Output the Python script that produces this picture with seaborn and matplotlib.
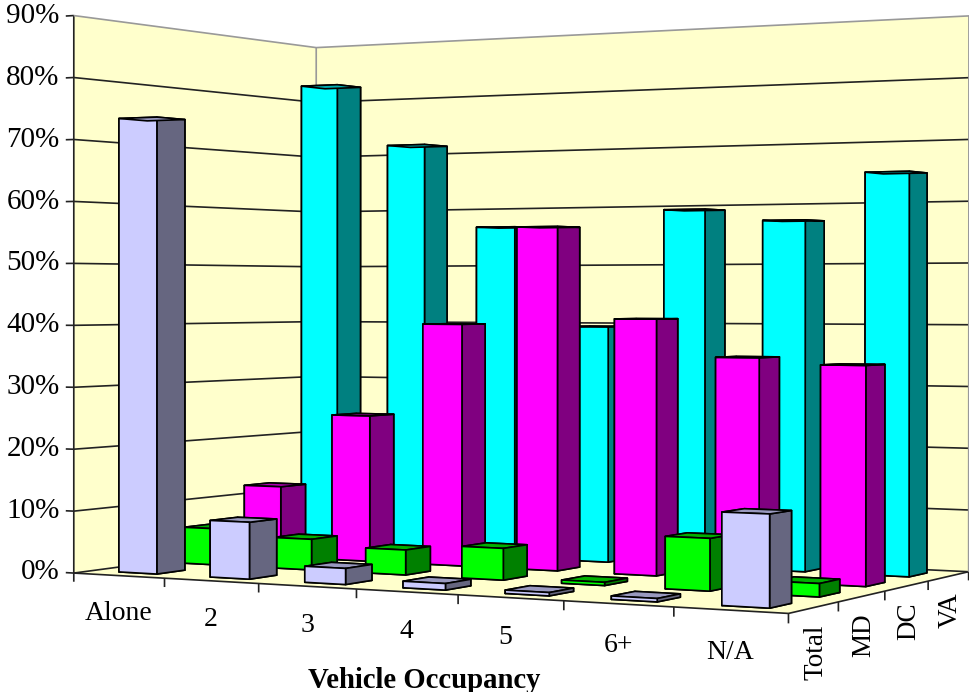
import numpy as np
import pandas as pd
import matplotlib
matplotlib.use('Agg')
import matplotlib.pyplot as plt
from mpl_toolkits.mplot3d import Axes3D
from mpl_toolkits.mplot3d.art3d import Poly3DCollection, Line3DCollection
import seaborn as sns

occupancy = ['Alone', '2', '3', '4', '5', '6+', 'N/A']
areas = ['Total', 'MD', 'DC', 'VA']
pct_ticks = [0, 10, 20, 30, 40, 50, 60, 70, 80, 90]

total = [73.5, 9, 2.5, 1, 0.5, 0.5, 13.5]
md = [6, 5, 4, 5, 0.5, 8, 2]
dc = [12, 24.5, 40, 56, 41, 35, 34]
va = [82, 71, 56.5, 39.5, 59, 57, 64.5]

df = pd.DataFrame({'Total': total, 'MD': md, 'DC': dc, 'VA': va}, index=occupancy)

sns.set_theme(style='white')
plt.rcParams['font.family'] = ['Liberation Serif', 'DejaVu Serif']

front = sns.color_palette(['#CCCCFF', '#00FF00', '#FF00FF', '#00FFFF'])
side = sns.color_palette(['#666680', '#008000', '#800080', '#008080'])
top = sns.color_palette(['#9999BF', '#00B000', '#B000B0', '#00B0B0'])
wall = '#FFFFCC'
dark = '#222222'
gray = '#999999'

fig = plt.figure(figsize=(9.69, 6.92), dpi=100)
h = 969 / 692
ax = fig.add_axes([0, (1 - h) / 2, 1, h], projection='3d', computed_zorder=False)
ax.set_axis_off()
ax.patch.set_visible(False)

# the box corners as seen in the picture (pixels), the camera is fitted to them
n_x, n_y, n_z = len(occupancy), len(areas), pct_ticks[-1]
corners = [
    ((0, 0, 0), (74, 574)),
    ((0, 0, n_z), (74, 15)),
    ((0, n_y, 0), (316, 540)),
    ((0, n_y, n_z), (316, 48)),
    ((n_x, n_y, 0), (969, 572)),
    ((n_x, n_y, n_z), (969, 16)),
    ((n_x, 0, 0), (788, 613)),
]
rows, rhs = [], []
for (x, y, z), (u, v) in corners:
    rows.append([x, y, z, 1, 0, 0, 0, 0, -u * x, -u * y, -u * z])
    rhs.append(u)
    rows.append([0, 0, 0, 0, x, y, z, 1, -v * x, -v * y, -v * z])
    rhs.append(v)
sol = np.linalg.lstsq(np.array(rows, float), np.array(rhs, float), rcond=None)[0]
P = np.append(sol, 1).reshape(3, 4)


def get_proj():
    flip = np.array([[1, 0, 0], [0, -1, 692], [0, 0, 1]], float)
    to_data = np.linalg.inv(ax.transData.get_affine().get_matrix())
    Q = to_data @ flip @ P
    depth = [-0.05, 0.1, -0.001, 2]
    return np.array([Q[0], Q[1], depth, Q[2]])


def to_fig(x, y, z):
    u, v, w = P @ [x, y, z, 1]
    return u / w / 969, 1 - v / w / 692


ax.get_proj = get_proj
ax.set_xlim(0, n_x)
ax.set_ylim(0, n_y)
ax.set_zlim(0, n_z)

# walls and floor
ax.add_collection3d(Poly3DCollection(
    [[(0, 0, 0), (0, n_y, 0), (0, n_y, n_z), (0, 0, n_z)],
     [(0, n_y, 0), (n_x, n_y, 0), (n_x, n_y, n_z), (0, n_y, n_z)],
     [(0, 0, 0), (n_x, 0, 0), (n_x, n_y, 0), (0, n_y, 0)]],
    facecolors=wall, edgecolors='none', zorder=1))

grid_segs = []
for p in pct_ticks[:-1]:
    grid_segs.append([(0, 0, p), (0, n_y, p), (n_x, n_y, p)])
    grid_segs.append([(-0.09, 0, p), (0, 0, p)])
grid_segs.append([(-0.09, 0, n_z), (0, 0, n_z)])
grid_segs.append([(0, 0, 0), (0, 0, n_z)])
grid_segs.append([(0, 0, 0), (n_x, 0, 0), (n_x, n_y, 0)])
for i in range(n_x + 1):
    grid_segs.append([(i, 0, 0), (i, 0, -1.4)])
for j in range(1, n_y + 1):
    grid_segs.append([(n_x, j, 0), (n_x, j, -1.4)])
ax.add_collection3d(Line3DCollection(grid_segs, colors=dark, linewidths=1.2, zorder=2), autolim=False)

gray_segs = [[(0, 0, n_z), (0, n_y, n_z), (n_x, n_y, n_z), (n_x, n_y, 0)],
             [(0, n_y, 0), (0, n_y, n_z)]]
ax.add_collection3d(Line3DCollection(gray_segs, colors=gray, linewidths=1.2, zorder=2), autolim=False)

# bars, back row first so the front ones paint over them
bar_w, bar_d = 0.42, 0.43
order = 3
for j in reversed(range(n_y)):
    for i in range(n_x):
        val = df.iloc[i, j]
        # faces: -z, +z, -y, +y, -x, +x
        cols = [side[j], top[j], front[j], side[j], side[j], side[j]]
        ax.bar3d(i + (1 - bar_w) / 2, j + (1 - bar_d) / 2, 0, bar_w, bar_d, val,
                 color=cols, shade=False, edgecolor='black', linewidth=1.2, zorder=order)
        order += 1

for p in pct_ticks:
    fx, fy = to_fig(-0.16, 0, p)
    fig.text(fx, fy, '%d%%' % p, ha='right', va='center', fontsize=21, color='black')
for i, name in enumerate(occupancy):
    # the 5 sits a little left of its cell in the original
    nudge = -0.05 if name == '5' else 0
    fx, fy = to_fig(i + 0.5 + nudge, 0, -6)
    fig.text(fx, fy, name, ha='center', va='center', fontsize=20, color='black')
for j, name in enumerate(areas):
    fx, fy = to_fig(n_x, j + 0.5, -2.5)
    fig.text(fx + 0.002, fy, name, ha='center', va='top', rotation=90,
             fontsize=19.5, color='black')

fig.text(424 / 969, 1 - 680 / 692, 'Vehicle Occupancy', ha='center', va='center',
         fontsize=20.7, fontweight='bold', color='black')

fig.savefig('out.png', dpi=100)
